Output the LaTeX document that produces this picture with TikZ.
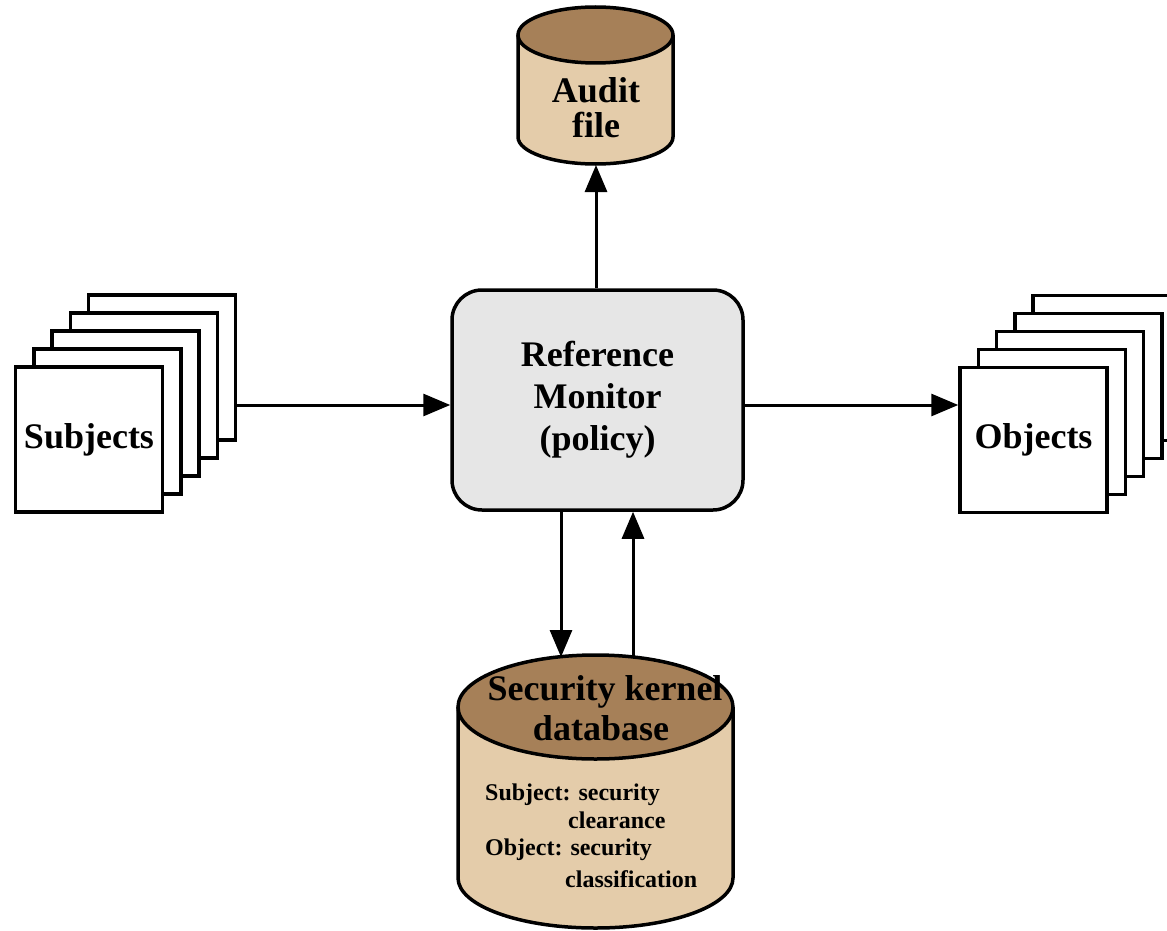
\documentclass[tikz,border=0pt]{standalone}
\usepackage{fontspec}
\setmainfont{Liberation Serif}
\usetikzlibrary{arrows.meta}
\definecolor{cyltop}{RGB}{166,128,88}
\definecolor{cylbody}{RGB}{228,204,170}
\definecolor{boxgray}{RGB}{230,230,230}
\begin{document}
\begin{tikzpicture}[x=1pt,y=-1pt,
  page/.style={draw,line width=3.5pt,fill=white,minimum width=147pt,minimum height=145pt,inner sep=0pt},
  big/.style={font=\fontsize{36}{42}\selectfont\bfseries},
  small/.style={font=\fontsize{24}{28}\selectfont\bfseries},
  arr/.style={line width=3pt,-{Triangle[length=27pt,width=22pt]}},
  outline/.style={line width=3.5pt}]
\useasboundingbox (0,0) rectangle (1167,931);

% Subjects stack
\foreach \i in {5,4,3,2}{
  \node[page] (subj\i) at ({89+18.25*(\i-1)},{439.5-18*(\i-1)}) {};
}
\node[page,big] (subj1) at (89,439.5) {Subjects};

% Objects stack
\foreach \i in {5,4,3,2}{
  \node[page] (obj\i) at ({1033.5+18.25*(\i-1)},{440-18*(\i-1)}) {};
}
\node[page,big] (obj1) at (1033.5,440) {Objects};

% Reference monitor
\node[draw,outline,fill=boxgray,rounded corners=30pt,minimum width=291pt,minimum height=220pt,
      align=center,big] (rm) at (597.5,400) {Reference\\Monitor\\(policy)};

% Audit file cylinder
\fill[cylbody] (518,35) -- (518,137) arc[start angle=180,end angle=0,x radius=77.5,y radius=27] -- (673,35) -- cycle;
\draw[outline] (518,35) -- (518,137) arc[start angle=180,end angle=0,x radius=77.5,y radius=27] -- (673,35);
\draw[outline,fill=cyltop] (595.5,35) ellipse[x radius=77.5,y radius=28];
\node[big,anchor=base,inner sep=0pt] (auditA) at (596,103) {Audit};
\node[big,anchor=base,inner sep=0pt] (auditB) at (596,138) {file};
\coordinate (auditbot) at (596,165);

% Security kernel database cylinder
\fill[cylbody] (458,707) -- (458,878) arc[start angle=180,end angle=0,x radius=137.5,y radius=50] -- (733,707) -- cycle;
\draw[outline] (458,707) -- (458,878) arc[start angle=180,end angle=0,x radius=137.5,y radius=50] -- (733,707);
\draw[outline,fill=cyltop] (595.5,707) ellipse[x radius=137.5,y radius=52];
\node[big,anchor=base,inner sep=0pt] (dbA) at (605,700) {Security kernel};
\node[big,anchor=base,inner sep=0pt] (dbB) at (601,740) {database};
\node[small,anchor=base west,inner sep=0pt] (dbC) at (485,800) {Subject: security};
\node[small,anchor=base west,inner sep=0pt] (dbD) at (568,828) {clearance};
\node[small,anchor=base west,inner sep=0pt] (dbE) at (485,855) {Object: security};
\node[small,anchor=base west,inner sep=0pt] (dbF) at (565,887) {classification};
\coordinate (dbtopL) at (561,657);
\coordinate (dbtopR) at (633,657);

% connectors
\coordinate (ay) at (0,405);
\draw[arr] (subj5.east |- ay) -- (rm.west |- ay);
\draw[arr] (rm.east |- ay) -- (obj1.west |- ay);
\draw[arr] (auditbot |- rm.north) -- (auditbot);
\draw[arr] (dbtopL |- rm.south) -- (dbtopL);
\draw[arr] (dbtopR) -- (dbtopR |- rm.south);
\end{tikzpicture}
\end{document}
